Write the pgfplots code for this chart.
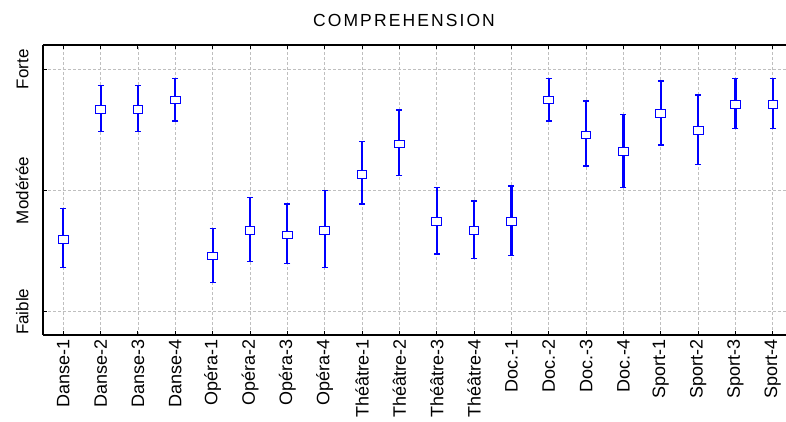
\documentclass[border=0pt]{standalone}
\usepackage{pgfplots}
\pgfplotsset{compat=1.18}
\usepackage{pgfplotstable}
\usepackage{fontspec}
\setmainfont{Liberation Sans}
\pgfplotstableread{
x y ep em
0 1.597 0.253 0.234
1 2.672 0.193 0.184
2 2.672 0.193 0.184
3 2.747 0.176 0.174
4 1.460 0.228 0.221
5 1.672 0.269 0.259
6 1.633 0.256 0.234
7 1.672 0.326 0.309
8 2.134 0.269 0.245
9 2.384 0.280 0.259
10 1.746 0.280 0.270
11 1.672 0.241 0.235
12 1.746 0.291 0.284
13 2.747 0.176 0.174
14 2.458 0.280 0.256
15 2.320 0.306 0.297
16 2.634 0.267 0.259
17 2.497 0.291 0.284
18 2.709 0.214 0.196
19 2.709 0.214 0.196
}\datatable
\begin{document}
\begin{tikzpicture}
\begin{axis}[
  at={(43pt,87pt)}, anchor=south west,
  scale only axis, width=743pt, height=290pt,
  xmin=-0.544, xmax=19.354, ymin=0.808, ymax=3.2,
  axis y line*=left,
  xtick={0,...,19},
  xticklabels={Danse-1,Danse-2,Danse-3,Danse-4,Opéra-1,Opéra-2,Opéra-3,Opéra-4,Théâtre-1,Théâtre-2,Théâtre-3,Théâtre-4,Doc.-1,Doc.-2,Doc.-3,Doc.-4,Sport-1,Sport-2,Sport-3,Sport-4},
  ytick={1,2,3}, yticklabels={Faible,Modérée,Forte},
  xticklabel style={rotate=90, anchor=east, font=\fontsize{18}{20}\selectfont},
  yticklabel style={rotate=90, anchor=south, font=\fontsize{17}{19}\selectfont},
  yticklabel shift=11pt,
  xticklabel shift=1pt,
  grid=major, grid style={densely dashed, black!25, line width=0.6pt},
  axis line style={black, line width=1.3pt},
  tick align=inside, major tick length=4pt, tick style={black, line width=1pt},
  clip=false,
]
\addplot[draw=blue, only marks, mark=square*, mark size=4.4pt,
  mark options={solid, fill=white, draw=blue, line width=0.9pt, xscale=1.1, yscale=0.9},
  error bars/.cd, y dir=both, y explicit,
  error bar style={solid, draw=blue, line width=2.2pt, line cap=butt},
  error mark=-,
  error mark options={rotate=90, solid, draw=blue, line width=1.5pt, mark size=3pt}]
  table[x=x, y=y, y error plus=ep, y error minus=em] {\datatable};
\end{axis}
\node[font=\fontsize{17.5}{19}\selectfont\addfontfeature{LetterSpace=12}] at (404pt,402pt) {COMPREHENSION};
\pgfresetboundingbox
\useasboundingbox (0,0) rectangle (786pt,422pt);
\end{tikzpicture}
\end{document}
